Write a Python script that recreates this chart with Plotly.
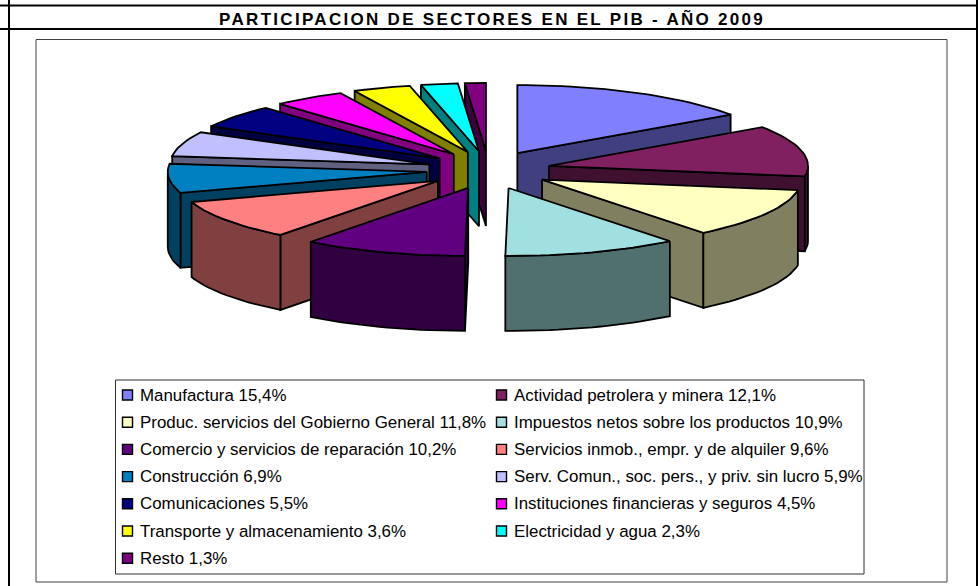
import numpy as np
import plotly.graph_objects as go

sectors = ["Manufactura", "Actividad petrolera y minera", "Produc. servicios del Gobierno General",
           "Impuestos netos sobre los productos", "Comercio y servicios de reparación",
           "Servicios inmob., empr. y de alquiler", "Construcción",
           "Serv. Comun., soc. pers., y priv. sin lucro", "Comunicaciones",
           "Instituciones financieras y seguros", "Transporte y almacenamiento",
           "Electricidad y agua", "Resto"]
shares = [15.4, 12.1, 11.8, 10.9, 10.2, 9.6, 6.9, 5.9, 5.5, 4.5, 3.6, 2.3, 1.3]
top_colors = ["#8080FF", "#802060", "#FFFFC0", "#A0E0E0", "#600080", "#FF8080", "#0080C0",
              "#C0C0FF", "#000080", "#FF00FF", "#FFFF00", "#00FFFF", "#800080"]
wall_colors = ["#404080", "#401030", "#808060", "#507070", "#300040", "#804040", "#004060",
               "#606080", "#000040", "#800080", "#808000", "#008080", "#400040"]
title_text = "PARTICIPACION DE SECTORES EN EL PIB - AÑO 2009"

# Projection of the tilted pie onto the pixel-mapped axes
CX, CY = 488.5, 170.0
RX, RY = 259.0, 68.0
EX, EY = 62.0, 19.0
DEPTH = 75.0
EDGE = dict(color="black", width=1.8)

edges = np.concatenate([[0], np.cumsum(shares)]) * 3.6


def arc(ax, ay, a0, a1):
    n = max(2, int(abs(a1 - a0) / 2) + 2)
    t = np.radians(np.linspace(a0, a1, n))
    return ax + RX * np.sin(t), ay - RY * np.cos(t)


def poly(xs, ys, color, name):
    return go.Scatter(x=list(xs), y=list(ys), mode="lines", fill="toself", fillcolor=color,
                      line=EDGE, name=name, showlegend=False, hoverinfo="name")


wedges = []
for i, (a0, a1) in enumerate(zip(edges[:-1], edges[1:])):
    mid = np.radians((a0 + a1) / 2)
    ax, ay = CX + EX * np.sin(mid), CY - EY * np.cos(mid)
    traces = []
    # flat radial walls that face the viewer
    for ang, visible in ((a0, np.sin(np.radians(a0)) < 0), (a1, np.sin(np.radians(a1)) > 0)):
        if visible:
            ox, oy = ax + RX * np.sin(np.radians(ang)), ay - RY * np.cos(np.radians(ang))
            traces.append(poly([ax, ox, ox, ax, ax], [ay, oy, oy + DEPTH, ay + DEPTH, ay],
                               wall_colors[i], sectors[i]))
    # curved outer wall on the near half
    lo, hi = max(a0, 90), min(a1, 270)
    if hi > lo:
        xa, ya = arc(ax, ay, lo, hi)
        traces.append(poly(np.r_[xa, xa[::-1], xa[0]], np.r_[ya, ya[::-1] + DEPTH, ya[0]],
                           wall_colors[i], sectors[i]))
    # top face
    xa, ya = arc(ax, ay, a0, a1)
    traces.append(poly(np.r_[ax, xa, ax], np.r_[ay, ya, ay], top_colors[i], sectors[i]))
    wedges.append(traces)

draw_order = [12, 11, 10, 9, 8, 7, 6, 5, 0, 1, 2, 4, 3]
fig = go.Figure()
for k in draw_order:
    fig.add_traces(wedges[k])

FONT = "Liberation Sans, Arial, sans-serif"
shapes = []
for x0, y0, x1, y1 in [(0, 5.5, 978, 5.5), (0, 29, 978, 29), (9, 0, 9, 586), (977, 0, 977, 586)]:
    shapes.append(dict(type="line", x0=x0, y0=y0, x1=x1, y1=y1, line=dict(color="black", width=2)))
shapes.append(dict(type="rect", x0=36, y0=39.5, x1=947, y1=582, line=dict(color="#404040", width=1)))
shapes.append(dict(type="rect", x0=115.5, y0=380, x1=864, y1=574, line=dict(color="#303030", width=1)))

annotations = [dict(x=492, y=19, text=f"<b>{title_text}</b>", showarrow=False, xanchor="center",
                    yanchor="middle", font=dict(family=FONT, size=17, color="black"))]
for i, (s, v) in enumerate(zip(sectors, shares)):
    col, row = i % 2, i // 2
    bx = 122.5 if col == 0 else 496.5
    by = 395 + row * 27.2
    shapes.append(dict(type="rect", x0=bx, x1=bx + 10, y0=by - 5, y1=by + 5,
                       fillcolor=top_colors[i], line=dict(color="black", width=1.4)))
    label = f"{s} {str(v).replace('.', ',')}%"
    annotations.append(dict(x=bx + 15, y=by, text=label, showarrow=False, xanchor="left",
                            yanchor="middle", font=dict(family=FONT, size=16.9, color="black")))

fig.update_layout(width=978, height=586, margin=dict(l=0, r=0, t=0, b=0), showlegend=False,
                  paper_bgcolor="white", plot_bgcolor="white", shapes=shapes, annotations=annotations,
                  xaxis=dict(range=[0, 978], visible=False, fixedrange=True),
                  yaxis=dict(range=[586, 0], visible=False, fixedrange=True))
fig.write_html("out.html", config={"displayModeBar": False},
               post_script="document.body.style.margin='0';document.body.style.overflow='hidden';"
                           "document.querySelector('.annotation-text').style.letterSpacing='2.3px';")
